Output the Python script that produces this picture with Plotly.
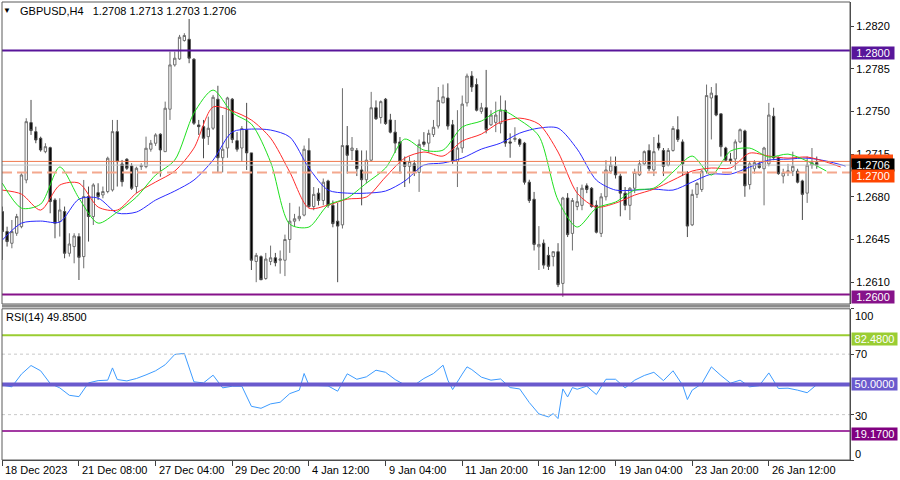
import plotly.graph_objects as go

# ---------------- data (GBPUSD H4) ----------------
opens = [1.26679,1.26515,1.26419,1.26501,1.26555,1.26938,1.27408,1.27334,1.27280,1.27170,
         1.27203,1.26774,1.26597,1.26679,1.26337,1.26392,1.26474,1.26310,1.26802,1.26638,
         1.26834,1.26815,1.26843,1.26856,1.27334,1.27069,1.27108,1.27053,1.26884,1.27047,
         1.27047,1.27190,1.27239,1.27313,1.27170,1.27518,1.27881,1.27930,1.28081,1.28091,
         1.27928,1.27389,1.27375,1.27293,1.27362,1.27600,1.27120,1.27200,1.27600,1.27260,
         1.27200,1.27350,1.27160,1.26270,1.26310,1.26130,1.26270,1.26300,1.26280,1.26280,
         1.26450,1.26600,1.26620,1.26650,1.27180,1.26720,1.26830,1.26770,1.26930,1.26730,
         1.26600,1.26570,1.27220,1.27180,1.27180,1.27020,1.26940,1.27100,1.27530,1.27450,
         1.27600,1.27430,1.27330,1.27250,1.27090,1.27050,1.27070,1.27000,1.27250,1.27240,
         1.27310,1.27380,1.27570,1.27610,1.27390,1.27090,1.27200,1.27570,1.27790,1.27720,
         1.27500,1.27530,1.27390,1.27410,1.27400,1.27510,1.27250,1.27270,1.27270,1.27240,
         1.26920,1.26780,1.26390,1.26420,1.26320,1.26310,1.26350,1.26090,1.26790,1.26500,
         1.26720,1.26730,1.26890,1.26870,1.26730,1.26500,1.26800,1.27010,1.27050,1.26970,
         1.26830,1.26730,1.26870,1.26980,1.27070,1.27180,1.27020,1.27240,1.27180,1.27060,
         1.27180,1.27350,1.27250,1.26990,1.26570,1.26820,1.26860,1.27010,1.27610,1.27630,
         1.27480,1.27200,1.27110,1.27110,1.27250,1.27340,1.26900,1.27030,1.27070,1.27030,
         1.27070,1.27460,1.27120,1.26970,1.27005,1.27010,1.27010,1.26930,1.26830,1.27060,
         1.27080]
highs = [1.26720,1.26555,1.26610,1.26660,1.26993,1.27444,1.27594,1.27375,1.27293,1.27239,
         1.27211,1.26788,1.26788,1.26720,1.26501,1.26501,1.26501,1.26938,1.26884,1.26911,
         1.26911,1.26884,1.27129,1.27430,1.27430,1.27102,1.27116,1.27075,1.27047,1.27075,
         1.27293,1.27266,1.27321,1.27321,1.27580,1.27990,1.27990,1.28127,1.28141,1.28257,
         1.27936,1.27430,1.27430,1.27457,1.27635,1.27710,1.27470,1.27620,1.27610,1.27330,
         1.27380,1.27570,1.27160,1.26340,1.26320,1.26340,1.26400,1.26340,1.26360,1.26490,
         1.26750,1.26660,1.26720,1.27220,1.27280,1.26880,1.26870,1.26950,1.26940,1.26770,
         1.26750,1.27690,1.27380,1.27290,1.27200,1.27180,1.27180,1.27660,1.27590,1.27590,
         1.27610,1.27480,1.27430,1.27290,1.27130,1.27130,1.27100,1.27270,1.27330,1.27350,
         1.27430,1.27700,1.27720,1.27730,1.27430,1.27510,1.27630,1.27810,1.27830,1.27770,
         1.27570,1.27840,1.27510,1.27580,1.27630,1.27590,1.27320,1.27370,1.27280,1.27250,
         1.26940,1.26840,1.26560,1.26450,1.26390,1.26350,1.26420,1.26800,1.26830,1.26790,
         1.26880,1.26900,1.26910,1.26880,1.26770,1.26830,1.27100,1.27130,1.27130,1.26990,
         1.26880,1.26880,1.27030,1.27100,1.27180,1.27230,1.27290,1.27310,1.27200,1.27200,
         1.27380,1.27460,1.27270,1.27010,1.26860,1.26920,1.27020,1.27720,1.27700,1.27730,
         1.27480,1.27210,1.27160,1.27270,1.27360,1.27350,1.27090,1.27100,1.27090,1.27210,
         1.27570,1.27530,1.27130,1.27030,1.27070,1.27170,1.27030,1.26940,1.27130,1.27200,
         1.27130]
lows = [1.26282,1.26392,1.26378,1.26480,1.26542,1.26911,1.27307,1.27239,1.27170,1.27157,
        1.26665,1.26460,1.26474,1.26296,1.26310,1.26255,1.26118,1.26214,1.26433,1.26569,
        1.26774,1.26788,1.26829,1.26843,1.26884,1.26884,1.27020,1.26856,1.26829,1.27020,
        1.27034,1.27170,1.27217,1.26965,1.27170,1.27430,1.27867,1.27922,1.28072,1.27895,
        1.27389,1.27307,1.27116,1.27225,1.27348,1.27000,1.27000,1.27120,1.27240,1.27170,
        1.27090,1.27020,1.26200,1.26100,1.26120,1.26120,1.26240,1.26230,1.26170,1.26150,
        1.26340,1.26560,1.26600,1.26640,1.26710,1.26690,1.26730,1.26730,1.26710,1.26550,
        1.26100,1.26540,1.26990,1.27100,1.26970,1.26730,1.26910,1.27090,1.27430,1.27400,
        1.27390,1.27320,1.27160,1.26990,1.26880,1.26910,1.26970,1.26840,1.27210,1.27160,
        1.27290,1.27360,1.27570,1.27350,1.27070,1.26880,1.27160,1.27540,1.27660,1.27500,
        1.27480,1.27320,1.27380,1.27330,1.27320,1.27210,1.27120,1.27250,1.27210,1.26900,
        1.26750,1.26360,1.26200,1.26210,1.26200,1.26230,1.26060,1.25980,1.26470,1.26360,
        1.26690,1.26690,1.26830,1.26710,1.26500,1.26470,1.26770,1.26990,1.26950,1.26640,
        1.26690,1.26610,1.26830,1.26970,1.27060,1.27010,1.26970,1.27180,1.26970,1.27050,
        1.27170,1.27250,1.26970,1.26470,1.26560,1.26790,1.26840,1.26990,1.27270,1.27460,
        1.27130,1.27090,1.27070,1.27020,1.27240,1.26800,1.26860,1.26990,1.27030,1.26730,
        1.27050,1.27100,1.26980,1.26910,1.26970,1.26970,1.26910,1.26610,1.26750,1.27030,
        1.27030]
closes = [1.26515,1.26433,1.26515,1.26638,1.26979,1.27416,1.27343,1.27266,1.27184,1.27211,
          1.26761,1.26583,1.26692,1.26337,1.26413,1.26479,1.26304,1.26802,1.26638,1.26897,
          1.26802,1.26843,1.27116,1.27334,1.27088,1.26924,1.27034,1.26870,1.27034,1.27056,
          1.27198,1.27239,1.27307,1.27184,1.27526,1.27881,1.27936,1.28108,1.28122,1.27936,
          1.27403,1.27375,1.27280,1.27362,1.27616,1.27120,1.27190,1.27610,1.27270,1.27190,
          1.27360,1.27160,1.26280,1.26320,1.26120,1.26290,1.26300,1.26260,1.26290,1.26450,
          1.26600,1.26620,1.26640,1.27190,1.26720,1.26820,1.26770,1.26920,1.26730,1.26580,
          1.26560,1.27220,1.27140,1.27200,1.27030,1.26940,1.27100,1.27530,1.27440,1.27580,
          1.27400,1.27330,1.27240,1.27090,1.27050,1.27090,1.27000,1.27230,1.27230,1.27320,
          1.27370,1.27590,1.27620,1.27380,1.27090,1.27200,1.27560,1.27790,1.27700,1.27510,
          1.27530,1.27350,1.27470,1.27470,1.27510,1.27240,1.27240,1.27280,1.27230,1.26920,
          1.26770,1.26410,1.26410,1.26240,1.26230,1.26350,1.26080,1.26790,1.26490,1.26770,
          1.26760,1.26870,1.26860,1.26720,1.26510,1.26800,1.27020,1.27060,1.26980,1.26830,
          1.26730,1.26870,1.27000,1.27070,1.27170,1.27030,1.27170,1.27200,1.27050,1.27180,
          1.27360,1.27270,1.27070,1.26560,1.26820,1.26910,1.27010,1.27630,1.27650,1.27470,
          1.27210,1.27100,1.27090,1.27250,1.27350,1.26890,1.27070,1.27080,1.27040,1.27200,
          1.27470,1.27120,1.26990,1.27000,1.27012,1.27050,1.26920,1.26820,1.27060,1.27080,
          1.27060]

green_idx = list(range(0, 173, 4))
green_val = [1.26912,1.26707,1.26740,1.27044,1.26789,1.26584,1.26675,1.26798,1.26978,1.27101,
             1.27486,1.27675,1.27490,1.27396,1.27085,1.26576,1.26552,1.26732,1.26789,1.26912,
             1.27036,1.27273,1.27183,1.27183,1.27372,1.27421,1.27511,1.27429,1.27298,1.26773,
             1.26552,1.26707,1.26757,1.26855,1.26871,1.27003,1.27134,1.26978,1.27175,1.27199,
             1.27126,1.27150,1.27093,1.27011]
red_idx = list(range(0, 173, 4)) + [175]
red_val = [1.26855,1.26822,1.26691,1.26896,1.26912,1.26716,1.26691,1.26830,1.26921,1.27011,
           1.27199,1.27536,1.27503,1.27429,1.27281,1.27003,1.26707,1.26732,1.26781,1.26798,
           1.26962,1.27117,1.27167,1.27134,1.27257,1.27314,1.27413,1.27445,1.27396,1.27167,
           1.26830,1.26716,1.26748,1.26814,1.26863,1.26937,1.27011,1.27036,1.27036,1.27158,
           1.27134,1.27117,1.27126,1.27085,1.27044]
blue_idx = list(range(0, 177, 4))
blue_val = [1.26445,1.26584,1.26601,1.26593,1.26781,1.26789,1.26667,1.26675,1.26773,1.26847,
            1.26937,1.27101,1.27331,1.27355,1.27347,1.27290,1.27036,1.26855,1.26830,1.26830,
            1.26847,1.26929,1.27060,1.27077,1.27117,1.27191,1.27240,1.27322,1.27363,1.27363,
            1.27191,1.26937,1.26855,1.26855,1.26863,1.26855,1.26921,1.26986,1.26986,1.27044,
            1.27101,1.27109,1.27117,1.27093,1.27052]

# RSI(14)
rsi_idx = [0,2,4,6,8,10,12,14,16,18,20,22,23,24,26,28,30,32,34,36,38,40,42,44,46,48,50,52,54,56,
           58,60,62,63,64,66,68,70,72,74,76,78,80,82,84,86,88,90,92,93,94,96,97,98,100,102,104,
           106,108,110,112,114,115,116,117,118,119,120,122,124,126,128,130,132,134,136,138,140,
           142,143,144,146,148,150,152,154,156,158,160,162,164,166,168,170]
rsi_val = [49.5,48.4,56.8,62.5,59.0,50.6,47.7,42.8,41.9,51.0,52.5,52.8,60.9,53.2,52.3,53.9,56.3,
           59.0,63.0,69.8,70.5,51.7,51.0,56.1,47.7,48.8,48.8,35.5,34.2,37.1,38.2,43.9,46.2,57.2,
           49.5,49.0,49.0,45.5,57.0,53.4,55.0,59.4,58.0,53.2,49.7,49.5,53.9,57.2,62.7,52.8,46.6,
           56.8,61.6,59.8,54.8,52.8,53.6,47.9,47.0,38.0,30.5,28.5,30.7,27.4,47.0,41.7,47.9,46.8,
           48.8,43.3,53.4,53.4,47.7,52.8,55.9,58.0,52.5,59.0,49.5,40.0,46.2,50.4,61.6,55.9,50.8,
           52.8,48.4,49.2,57.6,47.3,47.5,46.2,44.5,49.85]

tick_idx = [0, 16, 32, 48, 64, 80, 96, 112, 128, 144, 160]
tick_labels = ["18 Dec 2023", "21 Dec 08:00", "27 Dec 04:00", "29 Dec 20:00", "4 Jan 12:00",
               "9 Jan 04:00", "11 Jan 20:00", "16 Jan 12:00", "19 Jan 04:00", "23 Jan 20:00",
               "26 Jan 12:00"]
price_ticks = [1.2610, 1.2645, 1.2680, 1.2715, 1.2750, 1.2785, 1.2820]
rsi_ticks = [100, 70, 30, 0]

level_top, level_bottom = 1.2800, 1.2600
ask_level, bid_level, dash_level = 1.2709, 1.2706, 1.2700
rsi_hi, rsi_mid, rsi_lo = 82.48, 50.0, 19.17

FONT = "Liberation Sans, Arial, sans-serif"
bars = list(range(len(opens)))

fig = go.Figure()
fig.add_trace(go.Candlestick(
    x=bars, open=opens, high=highs, low=lows, close=closes,
    increasing=dict(line=dict(color="#6e6e6e", width=1), fillcolor="#ffffff"),
    decreasing=dict(line=dict(color="#4a4a4a", width=1), fillcolor="#000000"),
    whiskerwidth=0, showlegend=False, hoverinfo="skip", xaxis="x", yaxis="y"))

for ix, vals, col in [(blue_idx, blue_val, "#2b2bff"), (red_idx, red_val, "#ff2b2b"),
                      (green_idx, green_val, "#1ee01e")]:
    fig.add_trace(go.Scatter(x=ix, y=vals, mode="lines",
                             line=dict(color=col, width=1, shape="spline", smoothing=0.8),
                             showlegend=False, hoverinfo="skip", xaxis="x", yaxis="y"))

fig.add_trace(go.Scatter(x=rsi_idx, y=rsi_val, mode="lines",
                         line=dict(color="#3d9bff", width=1),
                         showlegend=False, hoverinfo="skip", xaxis="x2", yaxis="y2"))

MAIN_DOM = [0.34061, 1.0]
RSI_DOM = [0.0, 0.33013]
XR = [-0.06, 176.94]
YR = [1.259213, 1.283967]

fig.update_layout(
    width=900, height=480,
    margin=dict(l=2, r=50, t=2, b=20, autoexpand=False),
    paper_bgcolor="white", plot_bgcolor="white",
    hovermode=False,
    font=dict(family=FONT, size=11, color="black"),
    xaxis=dict(domain=[0, 1], range=XR, anchor="y", showticklabels=False, showgrid=False,
               zeroline=False, rangeslider=dict(visible=False), fixedrange=True,
               automargin=False),
    yaxis=dict(domain=MAIN_DOM, range=YR, side="right", anchor="x",
               tickvals=price_ticks, ticktext=[f"{v:.4f}" for v in price_ticks],
               ticks="outside", ticklen=3, tickcolor="#404040", showline=True,
               linecolor="#404040", linewidth=1, showgrid=False, zeroline=False,
               automargin=False,
               tickfont=dict(family=FONT, size=11, color="black")),
    xaxis2=dict(domain=[0, 1], range=XR, anchor="y2", matches="x", tickvals=tick_idx,
                showticklabels=False, ticks="outside", ticklen=5, tickcolor="#404040",
                showline=True, linecolor="#404040", linewidth=1, showgrid=False, zeroline=False,
                automargin=False),
    yaxis2=dict(domain=RSI_DOM, range=[0, 100], side="right", anchor="x2",
                tickvals=rsi_ticks, showticklabels=False, ticks="outside", ticklen=3,
                tickcolor="#404040", showline=True, linecolor="#404040", linewidth=1,
                showgrid=False, zeroline=False, automargin=False),
)

shapes = []
def hline(y, yref, color, width, dash="solid"):
    shapes.append(dict(type="line", xref="paper", x0=0, x1=1, yref=yref, y0=y, y1=y,
                       line=dict(color=color, width=width, dash=dash), layer="above"))

hline(bid_level, "y", "#c4c4c4", 1)
hline(ask_level, "y", "#f07a50", 1)
hline(dash_level, "y", "#f4a88e", 2, "10px,5px")
hline(level_top, "y", "#58159a", 2)
hline(level_bottom, "y", "#86128a", 2)
hline(70, "y2", "#c8c8c8", 1, "dot")
hline(30, "y2", "#c8c8c8", 1, "dot")
hline(rsi_hi, "y2", "#9acd32", 2)
hline(rsi_mid, "y2", "#6a5acd", 4)
hline(rsi_lo, "y2", "#a33aa3", 2)

# frames and separator
shapes.append(dict(type="rect", xref="paper", yref="paper", x0=0, x1=1, y0=MAIN_DOM[0], y1=1,
                   line=dict(color="#5a5a5a", width=1), layer="above"))
shapes.append(dict(type="rect", xref="paper", yref="paper", x0=0, x1=1, y0=0, y1=RSI_DOM[1],
                   line=dict(color="#5a5a5a", width=1), layer="above"))
shapes.append(dict(type="line", xref="paper", yref="paper", x0=0, x1=1, y0=0.33624, y1=0.33624,
                   line=dict(color="#8c8c8c", width=3), layer="above"))
# ask-line price tag, mostly hidden behind the bid tag (as in the reference)
ask_paper = MAIN_DOM[0] + (ask_level - YR[0]) / (YR[1] - YR[0]) * (MAIN_DOM[1] - MAIN_DOM[0])
shapes.append(dict(type="rect", xref="paper", yref="paper", x0=1 + 1 / 848, x1=1 + 43 / 848,
                   y0=ask_paper - 6 / 458, y1=ask_paper + 7 / 458,
                   fillcolor="#ff4f10", line=dict(width=0), layer="above"))
fig.update_layout(shapes=shapes)

ann = []
# header texts
ann.append(dict(xref="paper", yref="paper", x=0.0059, y=0.9814, text="▼", showarrow=False,
                xanchor="center", yanchor="middle", font=dict(size=8, color="black")))
ann.append(dict(xref="paper", yref="paper", x=0.01887, y=0.9814,
                text="GBPUSD,H4\u00a0\u00a0 1.2708 1.2713 1.2703 1.2706", showarrow=False,
                xanchor="left", yanchor="middle", font=dict(family=FONT, size=11, color="black")))
ann.append(dict(xref="paper", yref="paper", x=0.00236, y=0.3122, text="RSI(14) 49.8500",
                showarrow=False, xanchor="left", yanchor="middle",
                font=dict(family=FONT, size=11, color="black")))
# date labels
for t, lab in zip(tick_idx, tick_labels):
    ann.append(dict(xref="x2", yref="paper", x=t, y=0, yshift=-10, xshift=1, text=lab,
                    showarrow=False, xanchor="left", yanchor="middle",
                    font=dict(family=FONT, size=11, color="black")))

def box(y, yref, text, bg, w, yshift):
    ann.append(dict(xref="paper", yref=yref, x=1, y=y, xshift=1, yshift=yshift, text=text,
                    showarrow=False, xanchor="left", yanchor="middle", bgcolor=bg,
                    width=w, height=12, borderpad=0, align="center",
                    font=dict(family=FONT, size=11, color="white")))

box(level_top, "y", "1.2800", "#58159a", 42, -3)
box(bid_level, "y", "1.2706", "#000000", 42, 0)
box(dash_level, "y", "1.2700", "#ff4500", 42, -4)
box(level_bottom, "y", "1.2600", "#86128a", 42, -3)

# RSI scale labels
for v, ys in [(100, -7), (70, 0), (30, -1), (0, 6)]:
    ann.append(dict(xref="paper", yref="y2", x=1, y=v, xshift=3, yshift=ys, text=str(v),
                    showarrow=False, xanchor="left", yanchor="middle",
                    font=dict(family=FONT, size=11, color="black")))
box(rsi_hi, "y2", "82.4800", "#9acd32", 45, -4)
box(rsi_mid, "y2", "50.0000", "#6a5acd", 45, 0)
box(rsi_lo, "y2", "19.1700", "#800080", 45, -3)

fig.update_layout(annotations=ann)
fig.write_html("out.html", config={"displayModeBar": False, "staticPlot": True},
               post_script="document.body.style.margin='0';document.body.style.padding='0';"
                           "document.body.style.overflow='hidden';")
